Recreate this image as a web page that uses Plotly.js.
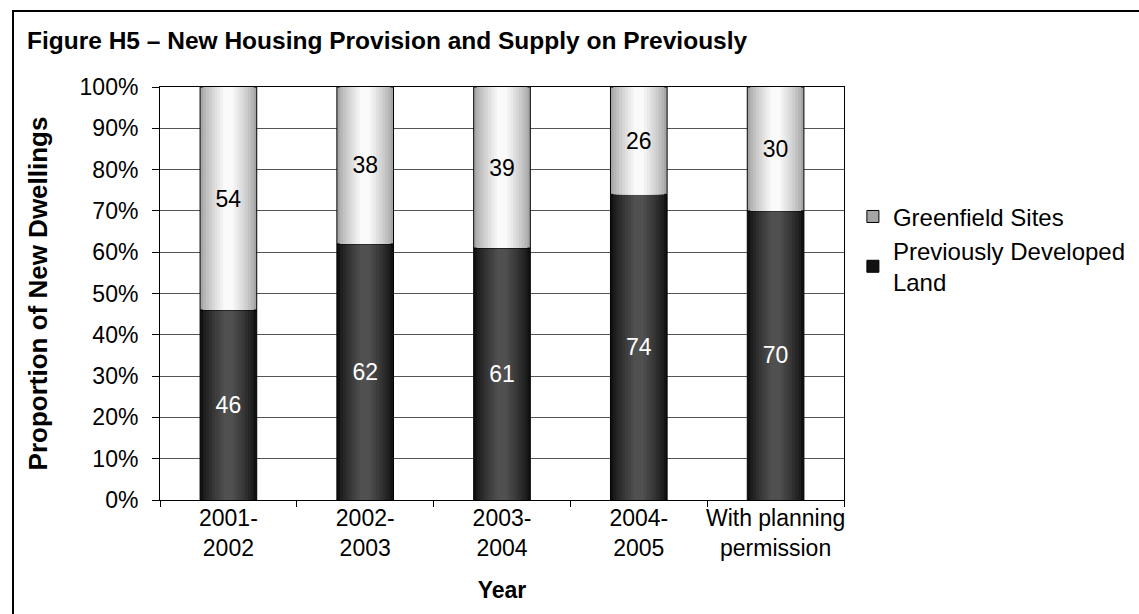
<!DOCTYPE html>
<html>
<head>
<meta charset="utf-8">
<script src="https://cdn.plot.ly/plotly-3.0.1.min.js"></script>
<style>
html,body{margin:0;padding:0;background:#fff;}
#chart{width:1139px;height:614px;}
</style>
</head>
<body>
<div id="chart"></div>
<script>
var categories = ["2001-<br>2002", "2002-<br>2003", "2003-<br>2004", "2004-<br>2005", "With planning<br>permission"];
var previouslyDeveloped = [46, 62, 61, 74, 70];
var greenfield = [54, 38, 39, 26, 30];
var yTickVals = [0, 10, 20, 30, 40, 50, 60, 70, 80, 90, 100];
var yTickLabels = ["0%", "10%", "20%", "30%", "40%", "50%", "60%", "70%", "80%", "90%", "100%"];

var BAR_W = 0.414;
var LAYERS = 9;

function mix(c1, c2, t) {
  var r = Math.round(c1[0] + (c2[0] - c1[0]) * t);
  var g = Math.round(c1[1] + (c2[1] - c1[1]) * t);
  var b = Math.round(c1[2] + (c2[2] - c1[2]) * t);
  return "rgb(" + r + "," + g + "," + b + ")";
}

var traces = [];
function addSeries(name, values, base, edge, center, rank) {
  for (var k = 0; k < LAYERS; k++) {
    var t = Math.pow(k / (LAYERS - 1), 0.8);
    var w = BAR_W * (1 - k / LAYERS * 0.92);
    traces.push({
      type: "bar",
      x: categories,
      y: values,
      base: base,
      width: w,
      name: name,
      legendrank: rank,
      showlegend: k === 0,
      marker: {
        color: mix(edge, center, t),
        line: {color: k === 0 ? "#000" : "rgba(0,0,0,0)", width: k === 0 ? 1 : 0}
      },
      hoverinfo: "skip"
    });
  }
}
var zeros = previouslyDeveloped.map(function(){return 0;});
addSeries("Previously Developed<br>Land", previouslyDeveloped, zeros, [18,18,18], [80,80,80], 2);
addSeries("Greenfield Sites", greenfield, previouslyDeveloped, [165,165,165], [250,250,250], 1);

// text label overlays
traces.push({
  type: "bar", x: categories, y: previouslyDeveloped, base: zeros, width: BAR_W,
  text: previouslyDeveloped.map(String), textposition: "inside", insidetextanchor: "middle",
  constraintext: "none", textfont: {size: 23, color: "#fff", family: "Liberation Sans, Arial"},
  marker: {color: "rgba(0,0,0,0)"}, showlegend: false, hoverinfo: "skip"
});
traces.push({
  type: "bar", x: categories, y: greenfield, base: previouslyDeveloped, width: BAR_W,
  text: greenfield.map(String), textposition: "inside", insidetextanchor: "middle",
  constraintext: "none", textfont: {size: 23, color: "#000", family: "Liberation Sans, Arial"},
  marker: {color: "rgba(0,0,0,0)"}, showlegend: false, hoverinfo: "skip"
});

var layout = {
  width: 1139, height: 614,
  margin: {l: 160, r: 295, t: 87, b: 114, autoexpand: false},
  paper_bgcolor: "#fff", plot_bgcolor: "#fff",
  font: {family: "Liberation Sans, Arial, sans-serif", size: 23, color: "#000"},
  barmode: "overlay",
  title: {
    text: "<b>Figure H5 – New Housing Provision and Supply on Previously</b>",
    font: {size: 24.5, color: "#000"},
    xref: "container", yref: "container",
    x: 27/1139, xanchor: "left", y: 1 - 40/614, yanchor: "middle"
  },
  xaxis: {
    type: "category",
    showline: true, linecolor: "#000", linewidth: 1, mirror: true,
    ticks: "outside", tickson: "boundaries", ticklen: 6, tickcolor: "#000",
    tickangle: 0, ticklabelstandoff: -3,
    tickfont: {size: 23}, automargin: false,
    title: {text: "<b>Year</b>", font: {size: 23}, standoff: 22}
  },
  yaxis: {
    range: [0, 100], tickmode: "array", tickvals: yTickVals, ticktext: yTickLabels,
    showgrid: true, gridcolor: "#555", gridwidth: 1,
    showline: true, linecolor: "#000", linewidth: 1, mirror: true,
    ticks: "outside", ticklen: 7, tickcolor: "#000",
    ticklabelstandoff: 9,
    tickfont: {size: 23}, automargin: false,
    title: {text: "<b>Proportion of New Dwellings</b>", font: {size: 26}, standoff: 24}
  },
  legend: {
    x: 1.013, xanchor: "left", y: 0.74, yanchor: "top",
    font: {size: 24}, bgcolor: "rgba(0,0,0,0)",
    itemwidth: 30, tracegroupgap: 0
  },
  shapes: [{
    type: "rect", xref: "paper", yref: "paper",
    x0: (13 - 160)/684, x1: 1.6, y0: -0.5, y1: (500 - 11)/413,
    line: {color: "#000", width: 2}, fillcolor: "rgba(0,0,0,0)", layer: "below"
  }]
};

Plotly.newPlot("chart", traces, layout, {displayModeBar: false, staticPlot: true});
</script>
</body>
</html>
